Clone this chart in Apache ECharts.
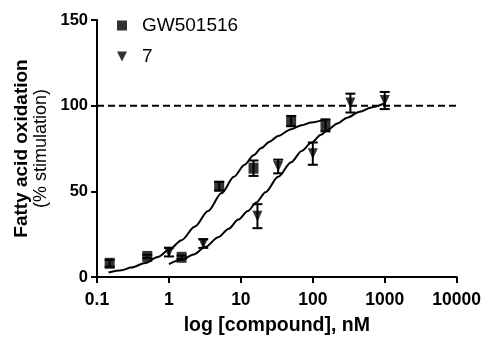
<!DOCTYPE html>
<html>
<head>
<meta charset="utf-8">
<script src="https://cdn.jsdelivr.net/npm/echarts@6/dist/echarts.min.js"></script>
<style>
  html, body { margin: 0; padding: 0; background: #fff; }
  #chart { width: 484px; height: 341px; }
</style>
</head>
<body>
<div id="chart"></div>
<script>
// measured points: [nM, mean, error]
const gwPoints = [
  [0.15, 8, 2], [0.5, 12, 1], [1.5, 11.5, 1], [5, 53, 2.5],
  [15, 63.5, 4.5], [50, 91, 3], [150, 88.5, 3.5]
];
const cpd7Points = [
  [1, 14.5, 2.5], [3, 19.5, 2.5], [17, 35.5, 7], [33, 64.5, 4],
  [100, 72, 6.5], [333, 101.5, 5.5], [1000, 103, 5]
];
// fitted curves
const gwCurve = [
  [0.145, 2.6], [0.22, 4], [0.3, 5.5], [0.47, 8.2], [0.7, 11.7], [1, 15.8],
  [1.5, 21.5], [2.3, 29.5], [3.5, 38.5], [5.4, 49], [8, 58.5], [11.3, 65.5],
  [15, 71], [19.3, 75.3], [25, 79], [33, 82.3], [50, 86.3], [70, 88.6],
  [95, 90.2], [150, 92]
];
const cpd7Curve = [
  [1, 7.5], [1.5, 10], [2.2, 13.2], [3.2, 17.5], [4.85, 23.2], [6.8, 28.2],
  [9.2, 33.5], [12.5, 38.5], [16.4, 43.5], [22, 49.5], [33, 58.5], [50, 67],
  [70, 73.5], [95, 78.3], [130, 83], [162, 86], [220, 89.6], [300, 93],
  [450, 96.5], [650, 99], [1000, 101.5]
];
const refLine = [[0.1, 100], [10000, 100]];
const yTicks = [0, 50, 100, 150];

const FONT = 'Liberation Sans, Arial, sans-serif';

function errorBars(params, api) {
  const x = api.value(0), y = api.value(1), e = api.value(2);
  const top = api.coord([x, y + e]);
  const bot = api.coord([x, y - e]);
  const w = 5;
  const style = { stroke: '#000', lineWidth: 2 };
  return {
    type: 'group',
    children: [
      { type: 'line', shape: { x1: top[0], y1: top[1], x2: bot[0], y2: bot[1] }, style },
      { type: 'line', shape: { x1: top[0] - w, y1: top[1], x2: top[0] + w, y2: top[1] }, style },
      { type: 'line', shape: { x1: bot[0] - w, y1: bot[1], x2: bot[0] + w, y2: bot[1] }, style }
    ]
  };
}

const triangleDown = 'path://M0,0 L10,0 L5,10 Z';

const chart = echarts.init(document.getElementById('chart'));

chart.setOption({
  animation: false,
  backgroundColor: '#fff',
  grid: { left: 97, right: 25, top: 20, bottom: 61, containLabel: false },
  legend: {
    orient: 'vertical',
    left: 112,
    top: 11,
    itemWidth: 10,
    itemHeight: 10,
    itemGap: 12,
    data: ['GW501516', '7'],
    textStyle: { fontFamily: FONT, fontSize: 19, color: '#000', padding: [0, 0, 0, 10] }
  },
  xAxis: {
    type: 'log',
    logBase: 10,
    min: 0.1,
    max: 10000,
    name: 'log [compound], nM',
    nameLocation: 'middle',
    nameGap: 39,
    nameTextStyle: { fontFamily: FONT, fontSize: 19.5, fontWeight: 'bold', color: '#000' },
    axisLine: { lineStyle: { color: '#000', width: 2 } },
    axisTick: { length: 6, lineStyle: { color: '#000', width: 2 } },
    minorTick: { show: false },
    splitLine: { show: false },
    axisLabel: {
      margin: 14,
      fontFamily: FONT, fontSize: 17.5, fontWeight: 'bold', color: '#000',
      formatter: v => String(+v.toPrecision(6))
    }
  },
  yAxis: {
    type: 'value',
    min: yTicks[0],
    max: yTicks[yTicks.length - 1],
    interval: 50,
    name: '{a|Fatty acid oxidation}\n{b|(% stimulation)}',
    nameLocation: 'middle',
    nameRotate: 90,
    nameGap: 43,
    nameTextStyle: {
      color: '#000',
      align: 'center',
      rich: {
        a: { fontFamily: FONT, fontSize: 19, fontWeight: 'bold', color: '#000', lineHeight: 20, align: 'center' },
        b: { fontFamily: FONT, fontSize: 18, color: '#000', lineHeight: 18, align: 'center' }
      }
    },
    axisLine: { show: true, lineStyle: { color: '#000', width: 2 } },
    axisTick: { show: true, length: 6, lineStyle: { color: '#000', width: 2 } },
    splitLine: { show: false },
    axisLabel: { margin: 9, fontFamily: FONT, fontSize: 16.5, fontWeight: 'bold', color: '#000' }
  },
  series: [
    {
      type: 'line', data: refLine, symbol: 'none', silent: true,
      lineStyle: { color: '#000', width: 2, type: [7, 4] }
    },
    {
      type: 'line', data: gwCurve, symbol: 'none', smooth: 0.3, smoothMonotone: 'x', silent: true,
      lineStyle: { color: '#000', width: 2 }
    },
    {
      type: 'line', data: cpd7Curve, symbol: 'none', smooth: 0.3, smoothMonotone: 'x', silent: true,
      lineStyle: { color: '#000', width: 2 }
    },
    { type: 'custom', renderItem: errorBars, data: gwPoints, silent: true, z: 3 },
    { type: 'custom', renderItem: errorBars, data: cpd7Points, silent: true, z: 3 },
    {
      name: 'GW501516', type: 'scatter', z: 4,
      data: gwPoints.map(p => [p[0], p[1]]),
      symbol: 'rect', symbolSize: [10, 11],
      itemStyle: { color: '#000' }
    },
    {
      name: '7', type: 'scatter', z: 4,
      data: cpd7Points.map(p => [p[0], p[1]]),
      symbol: triangleDown, symbolSize: [10, 11],
      itemStyle: { color: '#000' }
    }
  ]
});
</script>
</body>
</html>
